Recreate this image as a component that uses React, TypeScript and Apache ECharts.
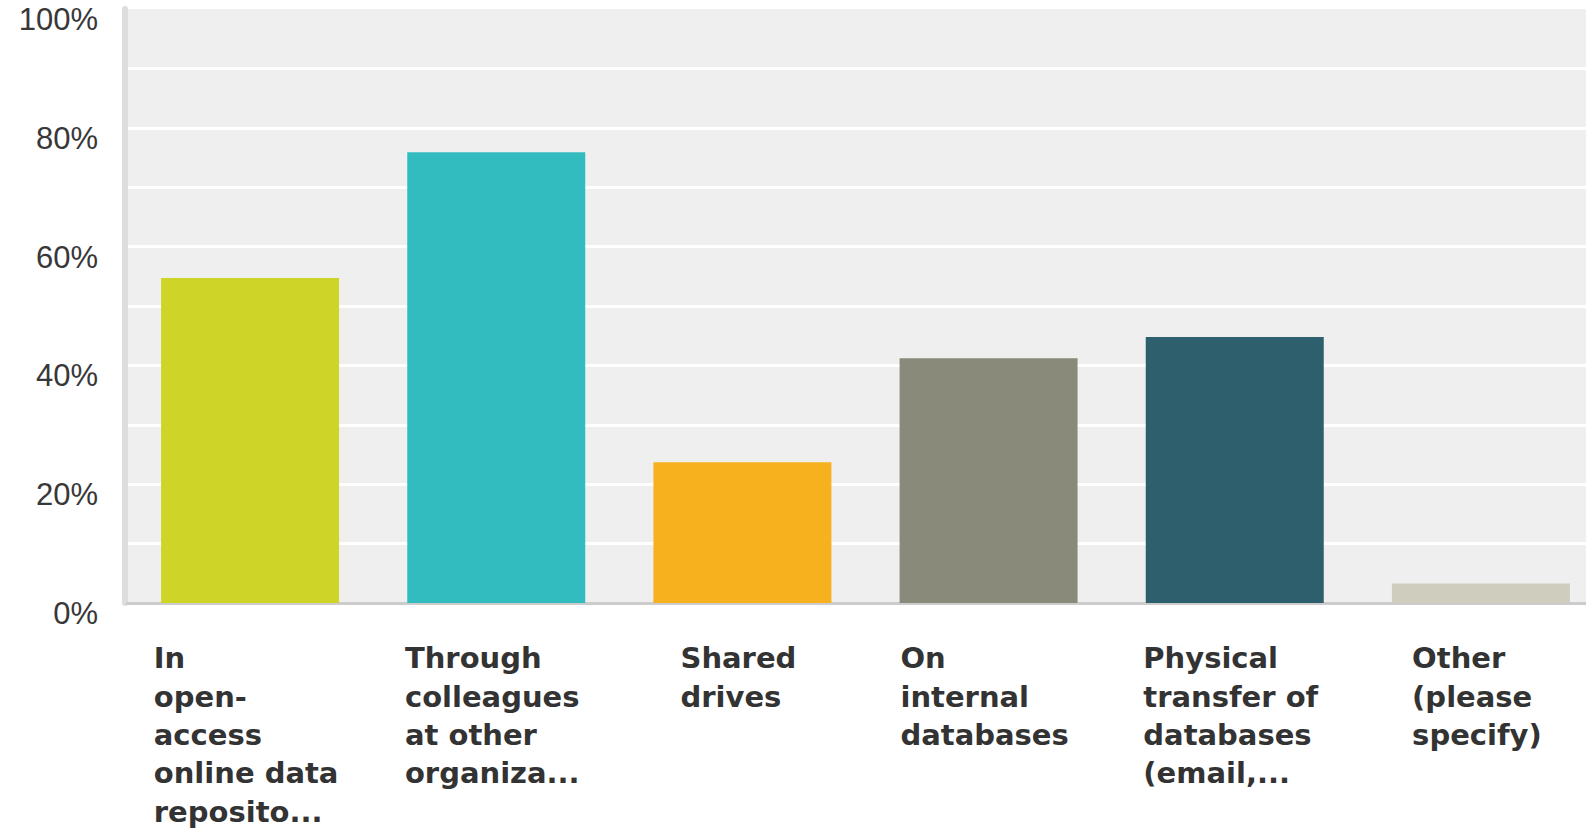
import React, { useEffect, useRef } from "react";
import * as echarts from "echarts";

// How respondents share data with others (share of respondents, %)
const categories: string[][] = [
  ["In", "open-", "access", "online data", "reposito..."],
  ["Through", "colleagues", "at other", "organiza..."],
  ["Shared", "drives"],
  ["On", "internal", "databases"],
  ["Physical", "transfer of", "databases", "(email,..."],
  ["Other", "(please", "specify)"],
];
const values: number[] = [54.7, 75.9, 23.7, 41.2, 44.8, 3.3];
const barColors: string[] = ["#cfd526", "#33bcc0", "#f7b01e", "#898a79", "#2d5f6d", "#cfcdbe"];
const yTicks: number[] = [0, 20, 40, 60, 80, 100];

export default function App() {
  const ref = useRef<HTMLDivElement>(null);

  useEffect(() => {
    if (!ref.current) return;
    const chart = echarts.init(ref.current, undefined, { renderer: "svg" });
    chart.setOption({
      animation: false,
      grid: {
        left: 127,
        top: 9,
        width: 1477,
        height: 594,
        show: true,
        backgroundColor: "#efefef",
        borderWidth: 0,
      },
      xAxis: {
        type: "category",
        data: categories.map((c) => c.join("\n")),
        axisTick: { show: false },
        axisLine: { show: true, lineStyle: { color: "#cccccc", width: 3 } },
        axisLabel: {
          interval: 0,
          margin: 36,
          align: "center",
          padding: [0, 8, 0, 0],
          formatter: (v: string) =>
            v
              .split("\n")
              .map((l) => `{a|${l}}`)
              .join("\n"),
          rich: {
            a: {
              align: "left",
              fontFamily: "DejaVu Sans",
              fontWeight: "bold",
              fontSize: 29,
              lineHeight: 38.4,
              color: "#333333",
            },
          },
        },
      },
      yAxis: {
        type: "value",
        min: 0,
        max: 100,
        interval: 10,
        offset: 2,
        axisLine: { show: true, lineStyle: { color: "#dddddd", width: 6 } },
        axisTick: { show: false },
        splitLine: {
          show: true,
          showMaxLine: false,
          lineStyle: { color: "#ffffff", width: 3 },
        },
        axisLabel: {
          margin: 27,
          fontFamily: "Liberation Sans",
          fontSize: 31,
          lineHeight: 21,
          verticalAlign: "top",
          color: "#383838",
          formatter: (v: number) => (yTicks.includes(v) ? `${v}%` : ""),
        },
      },
      series: [
        {
          type: "bar",
          barWidth: 178,
          data: values.map((v, i) => ({ value: v, itemStyle: { color: barColors[i] } })),
        },
      ],
    });
    return () => chart.dispose();
  }, []);

  return (
    <div
      style={{
        position: "fixed",
        left: 0,
        top: 0,
        width: "100vw",
        height: "100vh",
        overflow: "hidden",
        background: "#ffffff",
      }}
    >
      <div ref={ref} style={{ width: 1620, height: 829 }} />
    </div>
  );
}
